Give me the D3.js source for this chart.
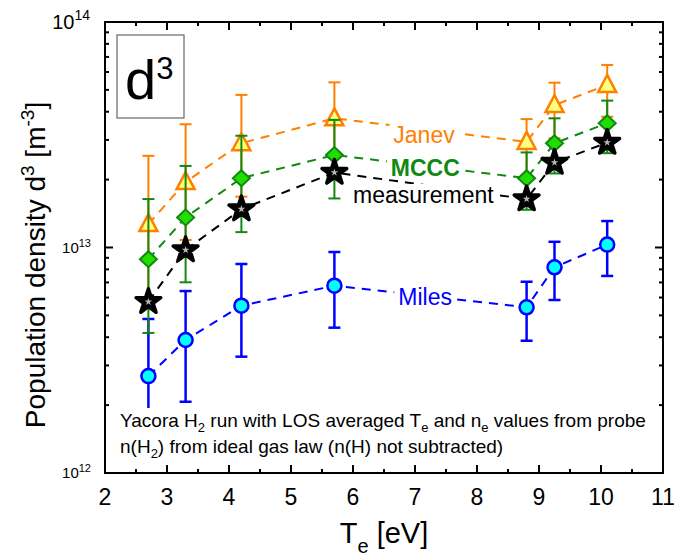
<!DOCTYPE html>
<html>
<head>
<meta charset="utf-8">
<script src="https://cdn.jsdelivr.net/npm/d3@7"></script>
<style>
  body { margin: 0; background: #fff; }
  svg { display: block; }
  text { font-family: Arial, "Liberation Sans", sans-serif; }
</style>
</head>
<body>
<svg id="chart" width="674" height="558"></svg>
<script>
// electron temperature of each measurement point [eV]
var te = [2.7, 3.3, 4.2, 5.7, 8.8, 9.25, 10.1];

// population density d3 [m^-3]
var measurement = [5.75e12, 9.75e12, 1.48e13, 2.15e13, 1.64e13, 2.38e13, 2.92e13];

var mccc   = [8.87e12, 1.36e13, 2.03e13, 2.57e13, 2.03e13, 2.90e13, 3.56e13];
var mcccLo = [4.18e12, 7.01e12, 1.17e13, 1.65e13, 1.47e13, 2.13e13, 2.62e13];
var mcccHi = [1.64e13, 2.30e13, 3.13e13, 3.68e13, 2.64e13, 3.74e13, 4.48e13];

var janev   = [1.27e13, 1.95e13, 2.90e13, 3.74e13, 2.94e13, 4.28e13, 5.26e13];
var janevLo = [5.90e12, 1.08e13, 1.68e13, 2.60e13, 2.08e13, 3.05e13, 3.80e13];
var janevHi = [2.55e13, 3.52e13, 4.75e13, 5.40e13, 3.71e13, 5.38e13, 6.45e13];

var miles   = [2.69e12, 3.89e12, 5.52e12, 6.77e12, 5.43e12, 8.17e12, 1.03e13];
var milesLo = [1.50e12, 2.07e12, 3.28e12, 4.41e12, 3.86e12, 5.85e12, 7.48e12];
var milesHi = [4.82e12, 6.41e12, 8.45e12, 9.55e12, 7.05e12, 1.06e13, 1.31e13];

// axis ticks
var xTicks = [2, 3, 4, 5, 6, 7, 8, 9, 10, 11];
var yTicks = [1e12, 1e13, 1e14];

// curve labels: [text, Te, density]
var curveLabels = [
  ["Janev", 6.65, 2.90e13],
  ["MCCC", 6.61, 2.07e13],
  ["measurement", 6.0, 1.575e13],
  ["Miles", 6.73, 5.56e12]
];

document.addEventListener("DOMContentLoaded", function(event) {
  var svg = d3.select("#chart"),
      margin = {top: 22, right: 11, bottom: 85, left: 105},
      width = 674 - margin.left - margin.right,
      height = 558 - margin.top - margin.bottom;

  var x = d3.scaleLinear().domain([2, 11]).range([margin.left, margin.left + width]);
  var y = d3.scaleLog().domain([1e12, 1e14]).range([margin.top + height, margin.top]);

  var minorX = d3.range(2.5, 11, 1);
  var minorY = [];
  [1e12, 1e13].forEach(function(d) {
    for (var k = 2; k <= 9; k++) minorY.push(d * k);
  });

  // ticks (inward, on all four sides)
  var ticks = svg.append("g").attr("stroke", "#000").attr("stroke-width", 2);
  function hTicks(vals, len) {
    vals.forEach(function(v) {
      ticks.append("line").attr("x1", x(v)).attr("x2", x(v))
        .attr("y1", margin.top + height).attr("y2", margin.top + height - len);
      ticks.append("line").attr("x1", x(v)).attr("x2", x(v))
        .attr("y1", margin.top).attr("y2", margin.top + len);
    });
  }
  function vTicks(vals, len) {
    vals.forEach(function(v) {
      ticks.append("line").attr("y1", y(v)).attr("y2", y(v))
        .attr("x1", margin.left).attr("x2", margin.left + len);
      ticks.append("line").attr("y1", y(v)).attr("y2", y(v))
        .attr("x1", margin.left + width).attr("x2", margin.left + width - len);
    });
  }
  hTicks(xTicks, 8);
  hTicks(minorX, 4);
  vTicks(yTicks, 8);
  vTicks(minorY, 4);

  // x tick labels
  svg.append("g").selectAll("text").data(xTicks).enter().append("text")
    .attr("x", function(d) { return x(d); })
    .attr("y", margin.top + height + 32)
    .attr("text-anchor", "middle")
    .style("font-size", "23px")
    .text(function(d) { return d; });

  // y tick labels (10^n)
  yTicks.forEach(function(v, i) {
    var big = (i === 2);
    var t = svg.append("text")
      .attr("x", margin.left - (big ? 15 : 14))
      .attr("y", y(v) + (big ? 7 : 5))
      .attr("text-anchor", "end")
      .style("font-size", big ? "20px" : "15px");
    t.append("tspan").text("10");
    t.append("tspan").attr("dy", big ? -9 : -6)
      .style("font-size", big ? "14px" : "11px")
      .text(Math.round(Math.log10(v)));
  });

  // axis titles
  var xt = svg.append("text")
    .attr("x", 384).attr("y", 543)
    .attr("text-anchor", "middle")
    .style("font-size", "29px");
  xt.append("tspan").text("T");
  xt.append("tspan").attr("dy", 10).style("font-size", "20px").text("e");
  xt.append("tspan").attr("dy", -10).text(" [eV]");

  var yt = svg.append("text")
    .attr("transform", "translate(45," + 265 + ") rotate(-90)")
    .attr("text-anchor", "middle")
    .style("font-size", "28px");
  yt.append("tspan").text("Population density d");
  yt.append("tspan").attr("dy", -11).style("font-size", "19px").text("3");
  yt.append("tspan").attr("dy", 11).text(" [m");
  yt.append("tspan").attr("dy", -11).style("font-size", "19px").text("-3");
  yt.append("tspan").attr("dy", 11).text("]");

  var plot = svg.append("g");

  // dashed connection lines
  function dashLine(vals, color) {
    plot.append("path")
      .datum(vals)
      .attr("fill", "none")
      .attr("stroke", color)
      .attr("stroke-width", 2)
      .attr("stroke-dasharray", "9,7")
      .attr("d", d3.line()
        .x(function(d, i) { return x(te[i]); })
        .y(function(d) { return y(d); }));
  }
  dashLine(miles, "#0000ff");
  dashLine(janev, "#ff8000");
  dashLine(mccc, "#118811");
  dashLine(measurement, "#000000");

  function errorBars(lo, hi, color, w) {
    var g = plot.append("g").attr("stroke", color).attr("stroke-width", w);
    te.forEach(function(t, i) {
      var cx = x(t);
      g.append("line").attr("x1", cx).attr("x2", cx).attr("y1", y(lo[i])).attr("y2", y(hi[i]));
      g.append("line").attr("x1", cx - 6).attr("x2", cx + 6).attr("y1", y(lo[i])).attr("y2", y(lo[i]));
      g.append("line").attr("x1", cx - 6).attr("x2", cx + 6).attr("y1", y(hi[i])).attr("y2", y(hi[i]));
    });
  }

  // Miles
  errorBars(milesLo, milesHi, "#0000ff", 2.5);
  plot.append("g").selectAll("circle").data(miles).enter().append("circle")
    .attr("cx", function(d, i) { return x(te[i]); })
    .attr("cy", function(d) { return y(d); })
    .attr("r", 7)
    .attr("fill", "#00ffff")
    .attr("stroke", "#0000ff")
    .attr("stroke-width", 2.5);

  // Janev
  errorBars(janevLo, janevHi, "#ff8000", 2);
  plot.append("g").selectAll("path").data(janev).enter().append("path")
    .attr("transform", function(d, i) { return "translate(" + x(te[i]) + "," + y(d) + ")"; })
    .attr("d", "M0,-10L9,7L-9,7Z")
    .attr("fill", "#ffff80")
    .attr("stroke", "#ff8000")
    .attr("stroke-width", 2.5)
    .attr("stroke-linejoin", "miter");

  // MCCC
  errorBars(mcccLo, mcccHi, "#118811", 2);
  plot.append("g").selectAll("path").data(mccc).enter().append("path")
    .attr("transform", function(d, i) { return "translate(" + x(te[i]) + "," + y(d) + ")"; })
    .attr("d", "M0,-8L8.5,0L0,8L-8.5,0Z")
    .attr("fill", "#22dd00")
    .attr("stroke", "#118811")
    .attr("stroke-width", 2);

  // measurement stars
  var starBig = d3.symbol().type(d3.symbolStar).size(13 * 13 / 0.8908)();
  var starSmall = d3.symbol().type(d3.symbolStar).size(4 * 4 / 0.8908)();
  var st = plot.append("g").selectAll("g").data(measurement).enter().append("g")
    .attr("transform", function(d, i) { return "translate(" + x(te[i]) + "," + y(d) + ")"; });
  st.append("path").attr("d", starBig).attr("fill", "#000")
    .attr("stroke", "#000").attr("stroke-width", 3.5).attr("stroke-linejoin", "round");
  st.append("path").attr("d", starSmall).attr("fill", "#b8b8b8");

  // curve labels with white background
  var colors = ["#ff8000", "#118811", "#000000", "#0000ff"];
  curveLabels.forEach(function(l, i) {
    var g = plot.append("g");
    var t = g.append("text")
      .attr("x", x(l[1])).attr("y", y(l[2]))
      .attr("fill", colors[i])
      .style("font-size", "23px")
      .style("font-weight", i === 1 ? "bold" : "normal")
      .text(l[0]);
    var b = t.node().getBBox();
    g.insert("rect", "text")
      .attr("x", b.x - 4).attr("y", b.y + 2)
      .attr("width", b.width + 8).attr("height", b.height - 4)
      .attr("fill", "#fff");
  });

  // note text
  var note = plot.append("g");
  var n1 = note.append("text").attr("x", margin.left + 15).attr("y", 427).style("font-size", "19px");
  n1.append("tspan").text("Yacora H");
  n1.append("tspan").attr("dy", 5).style("font-size", "13px").text("2");
  n1.append("tspan").attr("dy", -5).text(" run with LOS averaged T");
  n1.append("tspan").attr("dy", 5).style("font-size", "13px").text("e");
  n1.append("tspan").attr("dy", -5).text(" and n");
  n1.append("tspan").attr("dy", 5).style("font-size", "13px").text("e");
  n1.append("tspan").attr("dy", -5).text(" values from probe");
  var n2 = note.append("text").attr("x", margin.left + 15).attr("y", 453).style("font-size", "19px");
  n2.append("tspan").text("n(H");
  n2.append("tspan").attr("dy", 5).style("font-size", "13px").text("2");
  n2.append("tspan").attr("dy", -5).text(") from ideal gas law (n(H) not subtracted)");
  var nb = note.node().getBBox();
  note.insert("rect", "text")
    .attr("x", nb.x - 4).attr("y", nb.y - 2)
    .attr("width", nb.width + 8).attr("height", nb.height + 4)
    .attr("fill", "#fff");

  // d3 panel label
  var box = plot.append("g").attr("transform", "translate(" + (margin.left + 12) + "," + (margin.top + 13) + ")");
  box.append("rect").attr("width", 67).attr("height", 83)
    .attr("fill", "#fff").attr("stroke", "#666").attr("stroke-width", 1.2);
  var bt = box.append("text").attr("x", 8).attr("y", 64).style("font-size", "56px");
  bt.append("tspan").text("d");
  bt.append("tspan").attr("dy", -20).style("font-size", "31px").text("3");

  // frame
  svg.append("rect")
    .attr("x", margin.left).attr("y", margin.top)
    .attr("width", width).attr("height", height)
    .attr("fill", "none").attr("stroke", "#000").attr("stroke-width", 2);
});
</script>
</body>
</html>
